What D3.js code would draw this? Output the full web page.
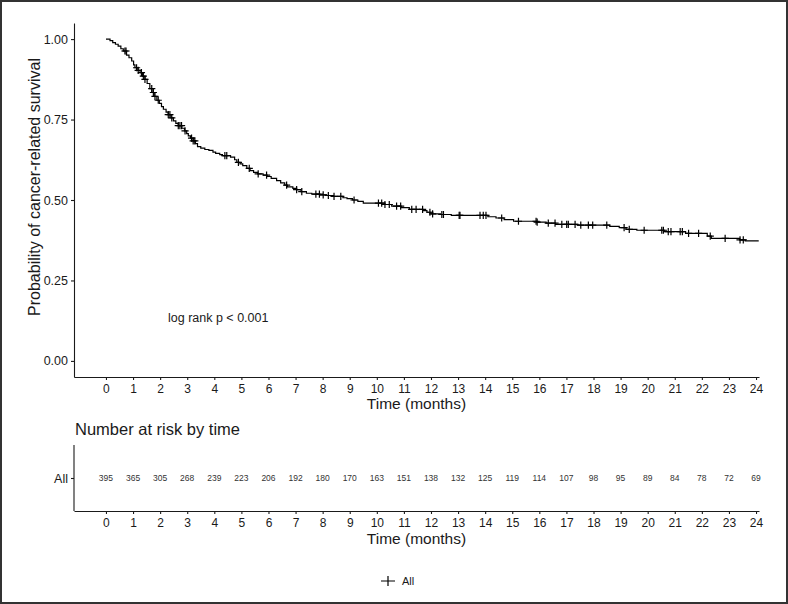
<!DOCTYPE html>
<html><head><meta charset="utf-8">
<script src="https://cdn.jsdelivr.net/npm/d3@7"></script>
<style>body{margin:0;background:#fff}svg{display:block;font-family:"Liberation Sans",Arial,Helvetica,sans-serif}</style>
</head><body><svg id="c" width="788" height="604"></svg>
<script>
// ---- data ----
const stepTimes = [0,0.15,0.25,0.35,0.45,0.55,0.64,0.76,0.85,0.95,1.02,1.07,1.18,1.26,1.35,1.44,1.52,1.62,1.70,1.78,1.88,1.97,2.05,2.12,2.22,2.30,2.40,2.49,2.58,2.67,2.80,2.90,2.98,3.04,3.12,3.22,3.30,3.38,3.50,3.65,3.80,3.95,4.05,4.20,4.30,4.60,4.75,4.83,4.95,5.05,5.20,5.32,5.45,5.60,5.80,5.95,6.10,6.30,6.45,6.60,6.70,6.90,7.04,7.20,7.40,7.60,7.90,8.15,8.40,8.75,8.90,9.10,9.30,9.50,10.30,10.55,10.90,11.20,11.70,11.85,12.00,12.35,12.75,14.10,14.40,14.70,15.05,15.90,16.25,16.60,17.40,18.60,18.95,19.20,19.60,20.60,21.40,22.20,22.35,23.40,23.60];
const stepSurv = [1.000,0.995,0.989,0.984,0.978,0.970,0.963,0.950,0.942,0.932,0.920,0.911,0.903,0.896,0.885,0.875,0.862,0.846,0.834,0.822,0.810,0.800,0.790,0.782,0.773,0.765,0.755,0.746,0.738,0.731,0.723,0.715,0.706,0.699,0.692,0.684,0.675,0.666,0.661,0.657,0.654,0.649,0.645,0.641,0.638,0.633,0.625,0.617,0.612,0.607,0.598,0.591,0.586,0.581,0.577,0.573,0.567,0.560,0.553,0.546,0.541,0.536,0.532,0.526,0.521,0.518,0.516,0.514,0.511,0.507,0.504,0.500,0.496,0.490,0.486,0.481,0.476,0.471,0.467,0.462,0.457,0.455,0.452,0.448,0.444,0.439,0.434,0.431,0.428,0.424,0.422,0.418,0.414,0.409,0.406,0.402,0.396,0.388,0.381,0.376,0.373];
const lastTime = 24.1;
const censorTimes = [0.70,0.74,1.13,1.19,1.31,1.38,1.44,1.69,1.75,1.81,1.93,2.30,2.36,2.43,2.67,2.73,2.79,2.92,3.16,3.22,3.28,4.39,4.46,4.89,5.29,5.62,5.93,6.67,7.04,7.23,7.75,7.88,8.02,8.21,8.42,8.67,9.16,10.06,10.18,10.30,10.46,10.73,10.88,11.29,11.45,11.69,11.96,12.06,12.40,12.46,13.04,13.07,13.81,13.93,14.03,14.61,15.23,15.88,15.92,16.33,16.58,16.83,17.01,17.07,17.32,17.53,17.81,17.97,18.49,19.13,19.32,19.87,20.52,20.58,20.76,20.86,21.20,21.28,21.51,21.88,22.31,22.86,23.41,23.53];
const xTicks = [0,1,2,3,4,5,6,7,8,9,10,11,12,13,14,15,16,17,18,19,20,21,22,23,24];
const yTicks = [0,0.25,0.5,0.75,1];
const riskTimes = [0,1,2,3,4,5,6,7,8,9,10,11,12,13,14,15,16,17,18,19,20,21,22,23,24];
const riskCounts = [395,365,305,268,239,223,206,192,180,170,163,151,138,132,125,119,114,107,98,95,89,84,78,72,69];
const strata = ["All"];
const pText = "log rank p < 0.001";

// ---- drawing ----
const svg = d3.select("#c");
const ink = "#1a1a1a";
svg.append("rect").attr("x",1).attr("y",1).attr("width",786).attr("height",602)
  .attr("fill","#fff").attr("stroke","#333").attr("stroke-width",2);

const x = d3.scaleLinear().domain([-1.18, 24.11]).range([74, 759]);
const y = d3.scaleLinear().domain([-0.05, 1.05]).range([377, 23]);

function styleAxis(g, fs){
  g.select(".domain").attr("stroke", ink).attr("stroke-width",1.1);
  g.selectAll(".tick line").attr("stroke", ink).attr("stroke-width",1.1);
  g.selectAll(".tick text").attr("fill", ink).attr("font-size", fs)
    .attr("font-family",'"Liberation Sans",Arial,sans-serif');
}

// main x axis
const gx = svg.append("g").attr("transform","translate(0,377)")
  .call(d3.axisBottom(x).tickValues(xTicks).tickSize(3).tickSizeOuter(0).tickPadding(4).tickFormat(d3.format("d")));
styleAxis(gx, 12);
// main y axis
const gy = svg.append("g").attr("transform","translate(74,0)")
  .call(d3.axisLeft(y).tickValues(yTicks).tickSize(3).tickSizeOuter(0).tickPadding(3).tickFormat(d3.format(".2f")));
styleAxis(gy, 12.5);

svg.append("text").attr("x", (74+759)/2).attr("y", 409).attr("text-anchor","middle")
  .attr("font-size",15.5).attr("fill",ink).text("Time (months)");
svg.append("text").attr("transform","translate(40,187) rotate(-90)").attr("text-anchor","middle")
  .attr("font-size",16).attr("fill",ink).text("Probability of cancer-related survival");

// KM curve
const pts = stepTimes.map((t,i)=>[t, stepSurv[i]]);
pts.push([lastTime, stepSurv[stepSurv.length-1]]);
const line = d3.line().x(d=>x(d[0])).y(d=>y(d[1])).curve(d3.curveStepAfter);
svg.append("path").attr("d", line(pts)).attr("fill","none").attr("stroke","#000").attr("stroke-width",1.2);

const survAt = t => { let s = stepSurv[0]; for (let i=0;i<stepTimes.length;i++){ if (stepTimes[i] <= t) s = stepSurv[i]; else break; } return s; };
const cs = 3.6;
svg.append("g").selectAll("path").data(censorTimes).join("path")
  .attr("d", t => { const cx = x(t), cy = y(survAt(t)); return `M${cx-cs},${cy}H${cx+cs}M${cx},${cy-cs}V${cy+cs}`; })
  .attr("stroke","#000").attr("stroke-width",1.2).attr("fill","none");

svg.append("text").attr("x", 168).attr("y", 322).attr("font-size",12.5).attr("fill",ink).text(pText);

// risk table
svg.append("text").attr("x", 75).attr("y", 435).attr("font-size",16.5).attr("fill",ink).text("Number at risk by time");
const ry = d3.scalePoint().domain(strata).range([511, 445]).padding(0.5);
const grx = svg.append("g").attr("transform","translate(0,511)")
  .call(d3.axisBottom(x).tickValues(xTicks).tickSize(3).tickSizeOuter(0).tickPadding(4).tickFormat(d3.format("d")));
styleAxis(grx, 12);
const gry = svg.append("g").attr("transform","translate(74,0)")
  .call(d3.axisLeft(ry).tickSize(3).tickSizeOuter(0).tickPadding(3));
gry.select(".domain").attr("d","M0,445V511");
styleAxis(gry, 12.5);
svg.append("text").attr("x", (74+759)/2).attr("y", 544).attr("text-anchor","middle")
  .attr("font-size",15.5).attr("fill",ink).text("Time (months)");
svg.append("g").selectAll("text").data(riskTimes).join("text")
  .attr("x", t => x(t)).attr("y", ry("All")).attr("dy","0.35em").attr("text-anchor","middle")
  .attr("font-size",8.5).attr("fill","#333").text((t,i)=>riskCounts[i]);

// legend
const lg = svg.append("g").attr("transform","translate(388,581)");
lg.append("path").attr("d","M-7,0H7M0,-5V5").attr("stroke","#000").attr("stroke-width",1.2);
lg.append("text").attr("x",14).attr("dy","0.35em").attr("font-size",11).attr("fill",ink).text(strata[0]);
</script></body></html>
